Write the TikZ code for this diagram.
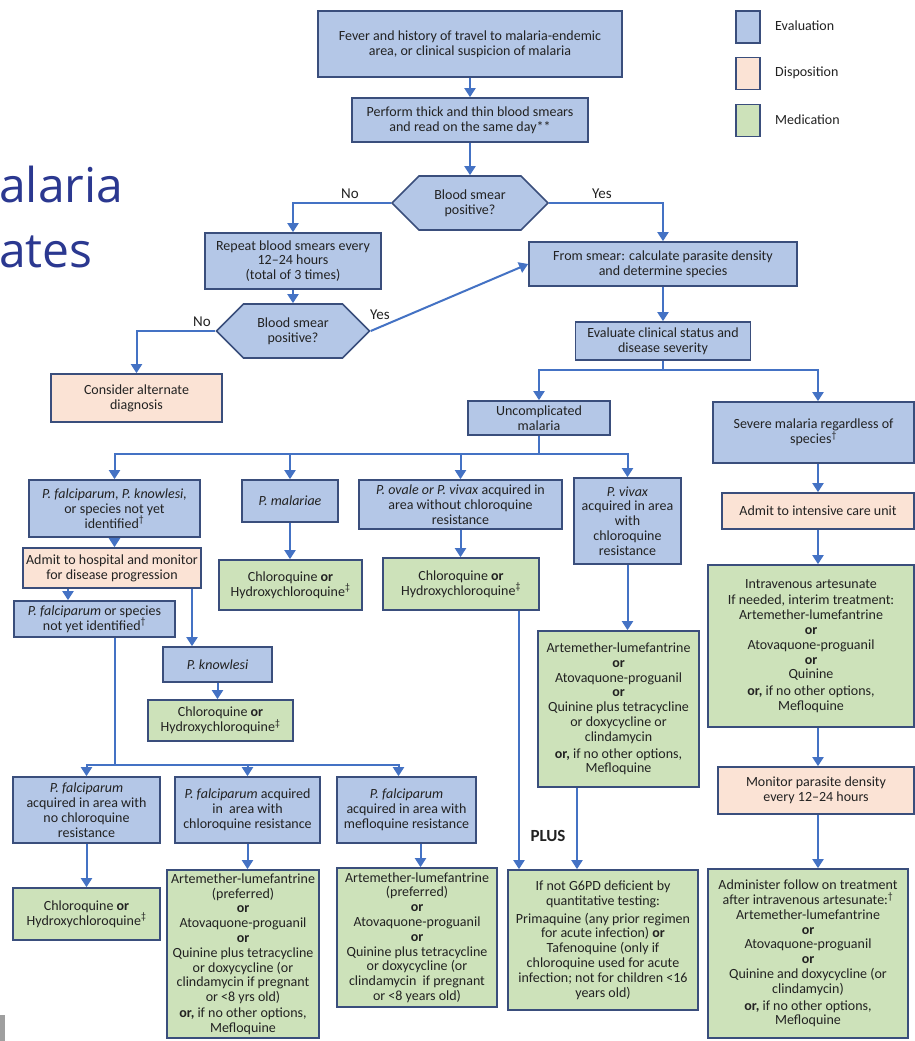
\documentclass[tikz,border=0pt]{standalone}
\usepackage{fontspec}
\setmainfont{Carlito}
\newfontfamily\titlefont{Open Sans}
\usetikzlibrary{arrows.meta,shapes.symbols}
\definecolor{evb}{HTML}{B4C7E7}
\definecolor{dsp}{HTML}{FBE3D5}
\definecolor{med}{HTML}{CDE2BA}
\definecolor{bord}{HTML}{3A4E7C}
\definecolor{conn}{HTML}{4472C4}
\definecolor{txt}{HTML}{222222}
\definecolor{ttl}{HTML}{2B3890}
\begin{document}
\begin{tikzpicture}[x=1pt,y=-1pt,
 box/.style={draw=bord, line width=1.7pt, rectangle, align=center, inner sep=0.5pt, font=\fontsize{14}{14.8}\selectfont, text=txt},
 ev/.style={box, fill=evb},
 ds/.style={box, fill=dsp},
 md/.style={box, fill=med},
 hexa/.style={ev, signal, signal to=east and west, signal pointer angle=90},
 arr/.style={draw=conn, line width=2pt, -{Triangle[width=11pt,length=9pt]}},
 lbl/.style={font=\fontsize{15}{17}\selectfont, text=txt, inner sep=0pt},
 lgd/.style={font=\fontsize{14}{16}\selectfont, text=txt, anchor=west, inner sep=0pt}
]
\useasboundingbox (0,0) rectangle (915,1041);
\fill[white] (0,0) rectangle (915,1041);

% title fragments
\node[anchor=base west, inner sep=0pt, font=\titlefont\fontsize{48}{48}\selectfont, text=ttl] (t1) at (-1,202) {alaria};
\node[anchor=base west, inner sep=0pt, font=\titlefont\fontsize{48}{48}\selectfont, text=ttl] (t2) at (-1,267) {ates};
\fill[gray!75] (0,1015) rectangle (5,1041);

% legend
\node[ev, minimum width=24pt, minimum height=32pt] (lg1) at (748,27) {};
\node[ds, minimum width=24pt, minimum height=32pt] (lg2) at (748,73.5) {};
\node[md, minimum width=24pt, minimum height=32pt] (lg3) at (748,120.5) {};
\node[lgd] (lt1) at (775,26) {Evaluation};
\node[lgd] (lt2) at (775,73) {Disposition};
\node[lgd] (lt3) at (775,120) {Medication};

% top chain
\node[ev, minimum width=304pt, minimum height=66pt] (fever) at (470,44) {Fever and history of travel to malaria-endemic\\area, or clinical suspicion of malaria};
\node[ev, minimum width=236pt, minimum height=44pt] (smear) at (470,120) {Perform thick and thin blood smears\\and read on the same day**};
\node[hexa, minimum width=156pt, minimum height=54pt] (dec1) at (470,203) {Blood smear\\positive?};
\node[ev, minimum width=176pt, minimum height=56pt] (rep) at (293,261) {Repeat blood smears every\\12--24 hours\\(total of 3 times)};
\node[hexa, minimum width=153pt, minimum height=54pt] (dec2) at (293,331) {Blood smear\\positive?};
\node[ds, minimum width=171pt, minimum height=48pt] (alt) at (136.5,398) {Consider alternate\\diagnosis};
\node[ev, minimum width=268pt, minimum height=44pt] (from) at (663,264) {From smear: calculate parasite density\\and determine species};
\node[ev, minimum width=175pt, minimum height=38pt] (evalc) at (663,341) {Evaluate clinical status and\\disease severity};
\node[ev, minimum width=142pt, minimum height=34pt] (unc) at (539,418) {Uncomplicated\\malaria};

% severe column
\node[ev, minimum width=201pt, minimum height=61pt] (sev) at (813.5,432.5) {Severe malaria regardless of\\species\textsuperscript{\textdagger}};
\node[ds, minimum width=192pt, minimum height=36pt] (icu) at (818,511) {Admit to intensive care unit};
\node[md, minimum width=206pt, minimum height=162pt] (iv) at (811,646) {Intravenous artesunate\\[2pt]If needed, interim treatment:\\Artemether-lumefantrine\\\textbf{or}\\Atovaquone-proguanil\\\textbf{or}\\Quinine\\[2pt]\textbf{or,} if no other options,\\Mefloquine};
\node[ds, minimum width=196pt, minimum height=47pt] (mon) at (816,790.5) {Monitor parasite density\\every 12--24 hours};
\node[md, minimum width=200pt, minimum height=169pt] (adm) at (808,953.5) {Administer follow on treatment\\after intravenous artesunate:\textsuperscript{\textdagger}\\Artemether-lumefantrine\\\textbf{or}\\Atovaquone-proguanil\\\textbf{or}\\Quinine and doxycycline (or\\clindamycin)\\[2pt]\textbf{or,} if no other options,\\Mefloquine};

% uncomplicated branches
\node[ev, minimum width=171pt, minimum height=57pt] (pfk) at (114.5,508.5) {\textit{P. falciparum, P. knowlesi,}\\or species not yet\\identified\textsuperscript{\textdagger}};
\node[ds, minimum width=178pt, minimum height=40pt] (hosp) at (112,568) {Admit to hospital and monitor\\for disease progression};
\node[ev, minimum width=161pt, minimum height=36pt] (pfs) at (94.5,619) {\textit{P. falciparum} or species\\not yet identified\textsuperscript{\textdagger}};
\node[ev, minimum width=109pt, minimum height=35pt] (pkn) at (217.5,664.5) {\textit{P. knowlesi}};
\node[md, minimum width=145pt, minimum height=41pt] (cq1) at (220.5,720.5) {Chloroquine \textbf{or}\\Hydroxychloroquine\textsuperscript{\textdaggerdbl}};
\node[ev, minimum width=96pt, minimum height=42pt] (pmal) at (290,501) {\textit{P. malariae}};
\node[md, minimum width=143pt, minimum height=50pt] (cq2) at (290.5,585) {Chloroquine \textbf{or}\\Hydroxychloroquine\textsuperscript{\textdaggerdbl}};
\node[ev, minimum width=203pt, minimum height=49pt] (pov) at (460.5,504.5) {\textit{P. ovale or P. vivax} acquired in\\area without chloroquine\\resistance};
\node[md, minimum width=156pt, minimum height=52pt] (cq3) at (461,584) {Chloroquine \textbf{or}\\Hydroxychloroquine\textsuperscript{\textdaggerdbl}};
\node[ev, minimum width=107pt, minimum height=86pt] (pviv) at (627.5,521) {\textit{P. vivax}\\acquired in area\\with\\chloroquine\\resistance};
\node[md, minimum width=161pt, minimum height=156pt] (artv) at (618.5,709) {Artemether-lumefantrine\\\textbf{or}\\Atovaquone-proguanil\\\textbf{or}\\Quinine plus tetracycline\\or doxycycline or\\clindamycin\\[2pt]\textbf{or,} if no other options,\\Mefloquine};
\node[md, minimum width=190pt, minimum height=140pt] (g6pd) at (603,940) {If not G6PD deficient by\\quantitative testing:\\[3pt]Primaquine (any prior regimen\\for acute infection) \textbf{or}\\Tafenoquine (only if\\chloroquine used for acute\\infection; not for children <16\\years old)};
\node[font=\bfseries\fontsize{17}{19}\selectfont, text=txt, inner sep=0pt] (plus) at (548,836) {PLUS};

% falciparum bottom row
\node[ev, minimum width=147pt, minimum height=66pt] (pfn) at (86.5,810) {\textit{P. falciparum}\\acquired in area with\\no chloroquine\\resistance};
\node[md, minimum width=147pt, minimum height=52pt] (cq4) at (86.5,914) {Chloroquine \textbf{or}\\Hydroxychloroquine\textsuperscript{\textdaggerdbl}};
\node[ev, minimum width=145pt, minimum height=66pt] (pfc) at (247.5,810) {\textit{P. falciparum} acquired\\in~ area with\\chloroquine resistance};
\node[md, minimum width=152pt, minimum height=168pt] (art1) at (243,954) {Artemether-lumefantrine\\(preferred)\\\textbf{or}\\Atovaquone-proguanil\\\textbf{or}\\Quinine plus tetracycline\\or doxycycline (or\\clindamycin if pregnant\\or <8 yrs old)\\[1pt]\textbf{or,} if no other options,\\Mefloquine};
\node[ev, minimum width=139pt, minimum height=66pt] (pfm) at (406.5,810) {\textit{P. falciparum}\\acquired in area with\\mefloquine resistance};
\node[md, minimum width=160pt, minimum height=139pt] (art2) at (417,937.5) {Artemether-lumefantrine\\(preferred)\\\textbf{or}\\Atovaquone-proguanil\\\textbf{or}\\Quinine plus tetracycline\\or doxycycline (or\\clindamycin~ if pregnant\\or <8 years old)};

% labels
\node[lbl] (no1) at (350,194) {No};
\node[lbl] (yes1) at (602,194) {Yes};
\node[lbl] (no2) at (202,322) {No};
\node[lbl] (yes2) at (380,315) {Yes};

% connectors
\draw[arr] (fever.south) -- (smear.north);
\draw[arr] (smear.south) -- (dec1.north);
\draw[arr] (dec1.west) -| (rep.north);
\draw[arr] (dec1.east) -| (from.north);
\draw[arr] (rep.south) -- (dec2.north);
\draw[arr] (dec2.west) -| (alt.north);
\draw[arr] (dec2.east) -- (from.west);
\draw[arr] (from.south) -- (evalc.north);
\draw[arr] (evalc.south) -- ++(0,9) -| (unc.north);
\draw[arr] (evalc.south) -- ++(0,9) -| ([xshift=4.5pt]sev.north);
\draw[arr] ([xshift=4.5pt]sev.south) -- (icu.north);
\draw[arr] (icu.south) -- (icu.south |- iv.north);
\draw[arr] (iv.south -| icu.south) -- (mon.north -| icu.south);
\draw[arr] (mon.south -| icu.south) -- (adm.north -| icu.south);

\draw[arr] (unc.south) -- ++(0,18) -| (pfk.north);
\draw[arr] (unc.south) -- ++(0,18) -| (pmal.north);
\draw[arr] (unc.south) -- ++(0,18) -| (pov.north);
\draw[arr] (unc.south) -- ++(0,18) -| (pviv.north);

\draw[arr] (pfk.south) -- (pfk.south |- hosp.north);
\draw[arr] ([xshift=-44pt]hosp.south) -- ([xshift=-44pt]hosp.south |- pfs.north);
\draw[arr] ([xshift=80pt]hosp.south) -- ([xshift=80pt]hosp.south |- pkn.north);
\draw[arr] (pkn.south) -- (pkn.south |- cq1.north);
\draw[arr] (pmal.south) -- (pmal.south |- cq2.north);
\draw[arr] (pov.south) -- (pov.south |- cq3.north);
\draw[arr] (pviv.south) -- (pviv.south |- artv.north);
\draw[arr] ([xshift=58pt]cq3.south) -- ([xshift=58pt]cq3.south |- g6pd.north);
\draw[arr] ([xshift=-41.5pt]artv.south) -- ([xshift=-41.5pt]artv.south |- g6pd.north);

\draw[arr] ([xshift=20.5pt]pfs.south) -- ++(0,127) -| (pfn.north);
\draw[arr] ([xshift=20.5pt]pfs.south) -- ++(0,127) -| (pfc.north);
\draw[arr] ([xshift=20.5pt]pfs.south) -- ++(0,127) -| ([xshift=-8pt]pfm.north);
\draw[arr] (pfn.south) -- (cq4.north);
\draw[arr] (pfc.south) -- (pfc.south |- art1.north);
\draw[arr] ([xshift=14pt]pfm.south) -- ([xshift=14pt]pfm.south |- art2.north);
\end{tikzpicture}
\end{document}
